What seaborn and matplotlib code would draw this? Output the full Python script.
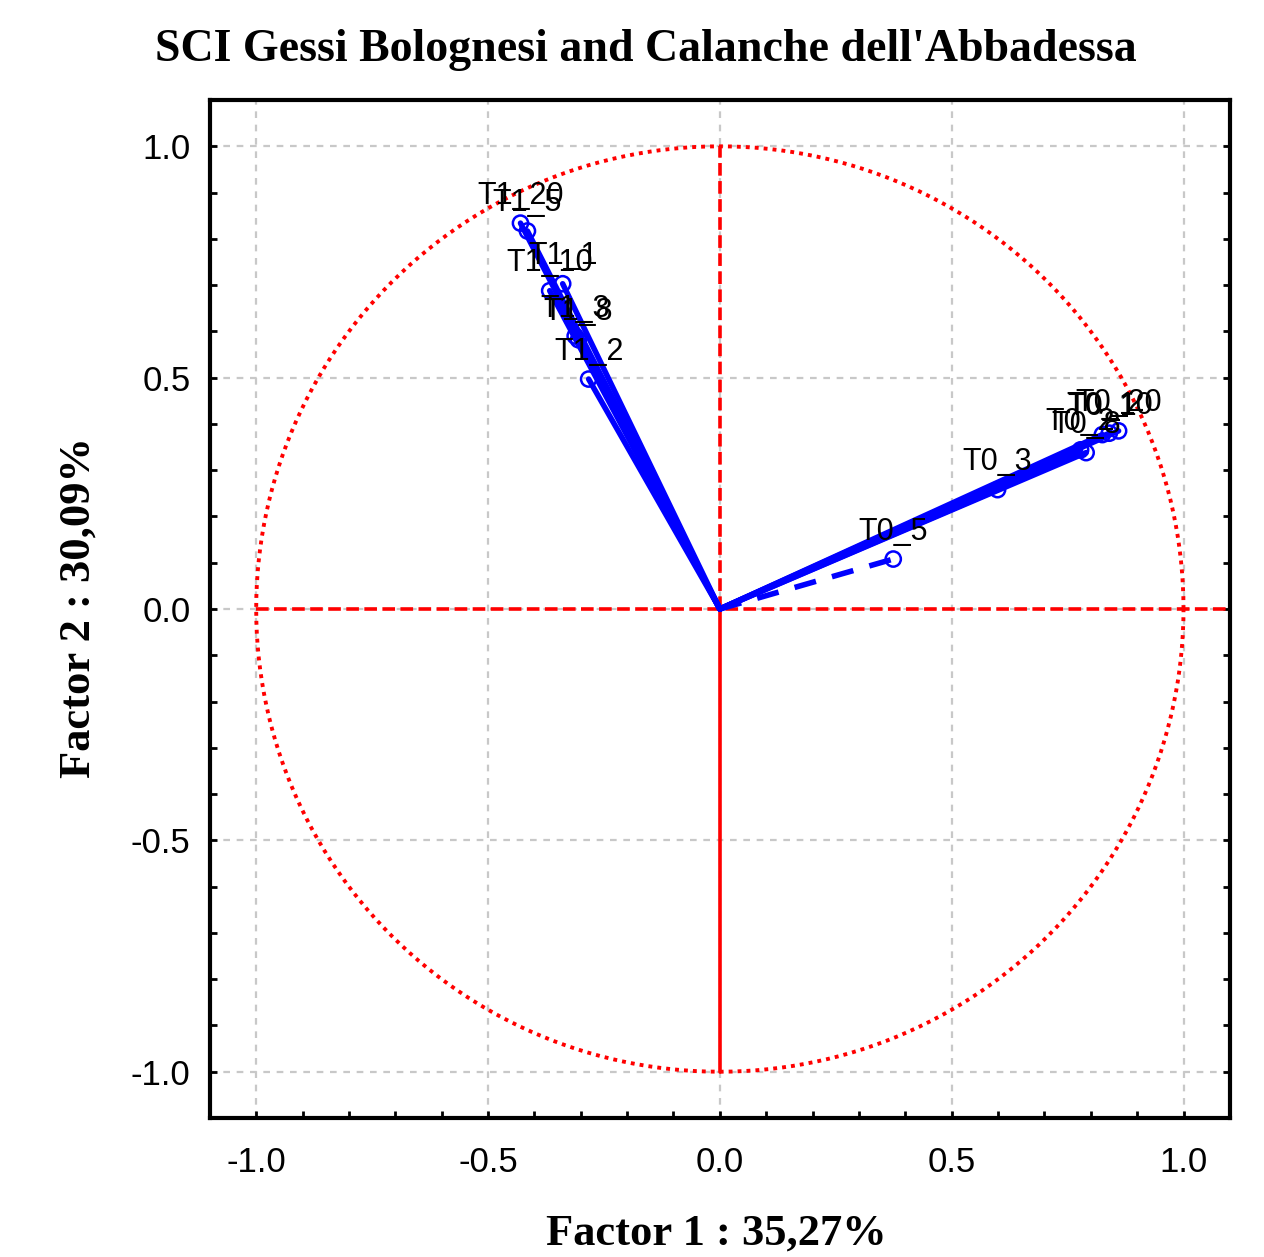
import numpy as np
import pandas as pd
import matplotlib
matplotlib.use("Agg")
import matplotlib.pyplot as plt
import seaborn as sns

# ---- data (factor loadings) ----
var_names = ["T1_20", "T1_5", "T1_10", "T1_1", "T1_3", "T1_8", "T1_2",
             "T0_20", "T0_10", "T0_1", "T0_8", "T0_2", "T0_3", "T0_5"]
factor1 = [-0.430, -0.415, -0.367, -0.339, -0.312, -0.305, -0.283,
           0.860, 0.840, 0.825, 0.790, 0.778, 0.599, 0.374]
factor2 = [0.834, 0.817, 0.688, 0.703, 0.590, 0.582, 0.497,
           0.385, 0.380, 0.377, 0.338, 0.344, 0.258, 0.108]
line_dashed = [False, False, False, False, False, False, False,
               False, False, False, False, False, False, True]

title = "SCI Gessi Bolognesi and Calanche dell'Abbadessa"
xlabel = "Factor 1 : 35,27%"
ylabel = "Factor 2 : 30,09%"
tick_values = [-1.0, -0.5, 0.0, 0.5, 1.0]
tick_labels = ["-1.0", "-0.5", "0.0", "0.5", "1.0"]

df = pd.DataFrame({"name": var_names, "f1": factor1, "f2": factor2, "dashed": line_dashed})

sns.set_theme(style="white")
plt.rcParams["font.family"] = ["Liberation Sans", "DejaVu Sans"]

fig = plt.figure(figsize=(12.64, 12.57), dpi=100)
ax = fig.add_axes([0.166, 0.1106, 0.807, 0.8098])

ax.set_xlim(-1.1, 1.1)
ax.set_ylim(-1.1, 1.1)

# grid
for v in tick_values:
    ax.axvline(v, color="#c8c8c8", lw=1.6, ls=(0, (3, 3)), zorder=0)
    ax.axhline(v, color="#c8c8c8", lw=1.6, ls=(0, (3, 3)), zorder=0)

# unit circle
theta = np.linspace(0, 2 * np.pi, 721)
ax.plot(np.cos(theta), np.sin(theta), color="red", lw=2.8, ls=(0, (1, 1.3)), zorder=1)
# axes through origin
ax.plot([-1.0, 1.1], [0, 0], color="red", lw=2.6, ls=(0, (3.5, 1.5)), zorder=1)
ax.plot([0, 0], [0, 1.0], color="red", lw=2.6, ls=(0, (3.5, 1.5)), zorder=1)
ax.plot([0, 0], [-1.0, 0], color="red", lw=2.6, ls="-", zorder=1)

# vectors
for _, r in df.iterrows():
    ax.plot([0, r.f1], [0, r.f2], color="blue", lw=4.0,
            ls=(0, (4, 3)) if r.dashed else "-", zorder=2)

sns.scatterplot(data=df, x="f1", y="f2", ax=ax, marker="o", s=120,
                facecolor="none", edgecolor="blue", linewidth=1.8, zorder=3, legend=False)

for _, r in df.iterrows():
    ax.annotate(r["name"], (r.f1, r.f2), xytext=(0, 9), textcoords="offset points",
                ha="center", va="bottom", fontsize=22, color="black", zorder=4)

# ticks
ax.set_xticks(tick_values)
ax.set_xticklabels(tick_labels)
ax.set_yticks(tick_values)
ax.set_yticklabels(tick_labels)
ax.set_xticks(np.arange(-1.0, 1.05, 0.1), minor=True)
ax.set_yticks(np.arange(-1.0, 1.05, 0.1), minor=True)
ax.tick_params(axis="both", which="both", direction="in", length=5, width=2, color="black",
               bottom=True, left=True, top=False, right=True, labelcolor="black")
ax.tick_params(axis="x", which="major", labelsize=25, pad=20)
ax.tick_params(axis="y", which="major", labelsize=25, pad=14)
for s in ax.spines.values():
    s.set_color("black")
    s.set_linewidth(3)
    s.set_visible(True)

ax.set_xlabel("")
ax.set_ylabel("")
serif = ["Liberation Serif", "DejaVu Serif"]
fig.text(0.511, 0.960, title, ha="center", va="center", fontsize=33, fontweight="bold",
         family=serif, color="black")
fig.text(0.567, 0.019, xlabel, ha="center", va="center", fontsize=32, fontweight="bold",
         family=serif, color="black")
fig.text(0.062, 0.517, ylabel, ha="center", va="center", rotation=90, fontsize=32,
         fontweight="bold", family=serif, color="black")

fig.savefig("out.png", dpi=100, facecolor="white")
